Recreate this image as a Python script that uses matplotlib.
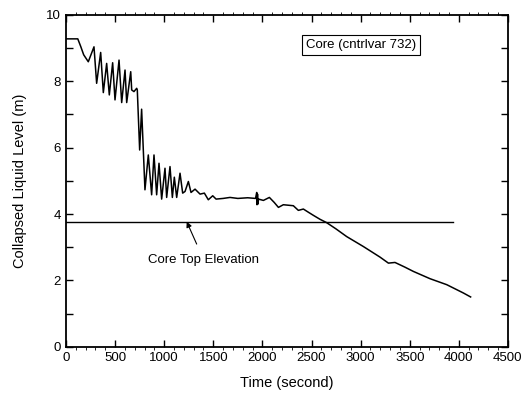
import matplotlib

matplotlib.use("Agg")
import matplotlib.pyplot as plt
from matplotlib.ticker import MultipleLocator

plt.rcParams["font.family"] = ["Liberation Sans", "DejaVu Sans"]
plt.rcParams["font.size"] = 9.5

# collapsed liquid level
time_s = [0, 120, 150, 180, 227, 285, 312, 353, 380, 414, 441, 475, 499, 540, 567,
          601, 618, 659, 669, 692, 720, 726, 750, 770, 804, 838, 872, 896, 923,
          947, 974, 1008, 1025, 1059, 1083, 1103, 1127, 1161, 1188, 1212, 1246,
          1273, 1314, 1365, 1409, 1449, 1494, 1528, 1600, 1670, 1750, 1850, 1930,
          1942, 1945, 1950, 1955, 1960, 2010, 2071, 2120, 2163, 2213, 2315, 2366,
          2417, 2470, 2519, 2587, 2654, 2750, 2858, 3028, 3198, 3283, 3350, 3450,
          3537, 3707, 3877, 4046, 4120]
level_m = [9.28, 9.28, 9.05, 8.8, 8.59, 9.04, 7.94, 8.87, 7.66, 8.54, 7.59, 8.56,
           7.44, 8.64, 7.36, 8.34, 7.36, 8.29, 7.74, 7.69, 7.79, 7.74, 5.93, 7.16,
           4.73, 5.78, 4.58, 5.78, 4.58, 5.53, 4.45, 5.38, 4.5, 5.43, 4.5, 5.11,
           4.5, 5.23, 4.63, 4.68, 4.98, 4.65, 4.75, 4.6, 4.63, 4.43, 4.55, 4.45,
           4.47, 4.5, 4.47, 4.49, 4.47, 4.65, 4.28, 4.6, 4.3, 4.45, 4.41, 4.5,
           4.35, 4.2, 4.28, 4.25, 4.11, 4.15, 4.05, 3.96, 3.84, 3.74, 3.55, 3.32,
           3.02, 2.70, 2.52, 2.54, 2.4, 2.27, 2.05, 1.87, 1.62, 1.5]

core_top_level = 3.77
core_top_end = 3940

fig, ax = plt.subplots(figsize=(5.28, 3.94), dpi=100)
fig.subplots_adjust(left=0.125, right=0.962, top=0.962, bottom=0.12)

ax.plot(time_s, level_m, color="black", lw=1.1)
ax.plot([0, core_top_end], [core_top_level, core_top_level], color="black", lw=1.0)

ax.annotate("Core Top Elevation", xy=(1229, core_top_level), xytext=(1405, 2.6),
            ha="center", va="center",
            arrowprops=dict(arrowstyle="-|>", color="black", lw=0.8,
                            mutation_scale=8, shrinkA=6, shrinkB=0))

ax.text(3004, 9.1, "Core (cntrlvar 732)", ha="center", va="center",
        bbox=dict(boxstyle="square,pad=0.3", fc="white", ec="black", lw=0.8))

ax.set_xlim(0, 4500)
ax.set_ylim(0, 10)
ax.xaxis.set_major_locator(MultipleLocator(500))
ax.xaxis.set_minor_locator(MultipleLocator(100))
ax.yaxis.set_major_locator(MultipleLocator(2))
ax.yaxis.set_minor_locator(MultipleLocator(1))
ax.tick_params(which="major", direction="in", length=5, width=1, top=True, right=True)
ax.tick_params(which="minor", direction="in", length=5, width=1, top=True, right=True)
ax.tick_params(axis="x", which="minor", direction="out", length=2, width=0.6)
for s in ax.spines.values():
    s.set_linewidth(1.3)

ax.set_xlabel("Time (second)", fontsize=10.5, labelpad=9)
ax.set_ylabel("Collapsed Liquid Level (m)", fontsize=10.5, labelpad=14)

fig.savefig("out.png", dpi=100)
